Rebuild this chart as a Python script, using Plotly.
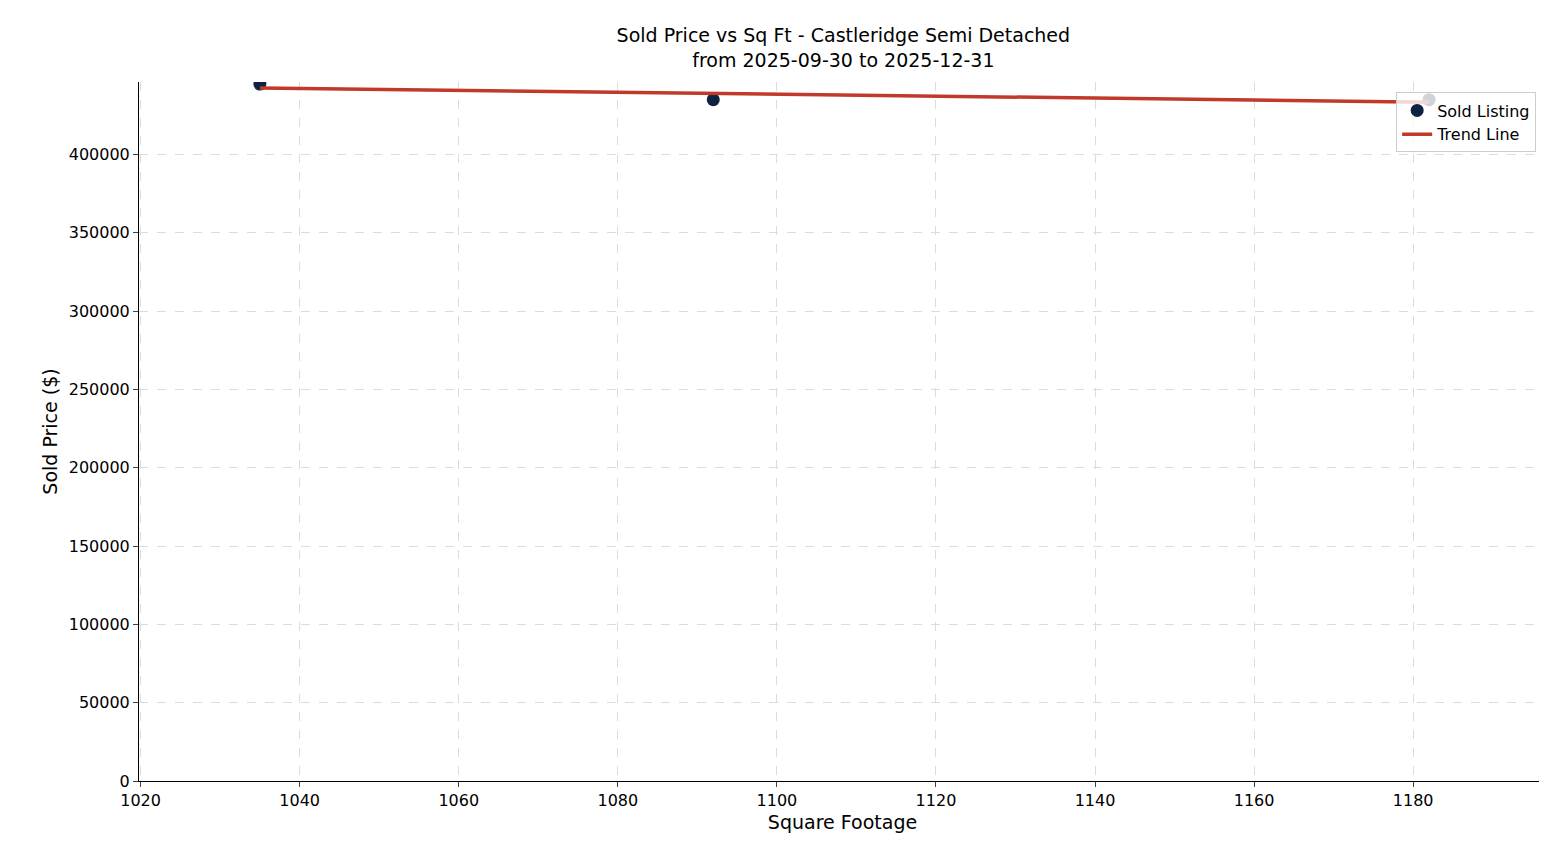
import numpy as np
import plotly.graph_objects as go

sqft = [1035, 1092, 1182]
price = [445000, 435000, 435000]

m, b = np.polyfit(sqft, price, 1)
tx = [min(sqft), max(sqft)]
ty = [m * v + b for v in tx]

fig = go.Figure()
fig.add_trace(go.Scatter(x=sqft, y=price, mode="markers", name="Sold Listing",
                         marker=dict(color="#0d2240", size=13)))
fig.add_trace(go.Scatter(x=tx, y=ty, mode="lines", name="Trend Line",
                         line=dict(color="#c0392b", width=3.5)))

fig.update_layout(
    width=1547, height=845,
    margin=dict(l=131, r=9, t=74, b=72),
    plot_bgcolor="white", paper_bgcolor="white",
    font=dict(family="DejaVu Sans", size=16, color="black"),
    title=dict(text="Sold Price vs Sq Ft - Castleridge Semi Detached<br>from 2025-09-30 to 2025-12-31",
               x=0.54, xanchor="center", y=0.96, yref="container", yanchor="top",
               font=dict(size=19)),
    legend=dict(x=0.993, y=0.985, xanchor="right", yanchor="top",
                bordercolor="#cccccc", borderwidth=1, bgcolor="rgba(255,255,255,0.8)",
                font=dict(size=16)),
    xaxis=dict(title=dict(text="Square Footage", standoff=6), range=[1019.8, 1196.7],
               dtick=20, showline=True, linecolor="black", ticks="outside",
               showgrid=True, gridcolor="#dcdcdc", gridwidth=0.8, griddash="dash", zeroline=False,
               tickfont=dict(size=16)),
    yaxis=dict(title=dict(text="Sold Price ($)", standoff=6), range=[0, 446300],
               dtick=50000, tickformat="d", showline=True, linecolor="black", ticks="outside",
               showgrid=True, gridcolor="#dcdcdc", gridwidth=0.8, griddash="dash", zeroline=False,
               tickfont=dict(size=16)),
)
fig.write_html("out.html")
